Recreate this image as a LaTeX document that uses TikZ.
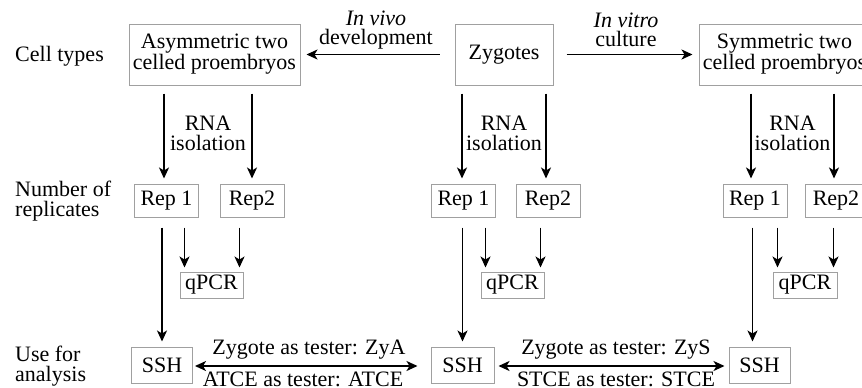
\documentclass[tikz,border=0pt]{standalone}
\usepackage{fontspec}
\setmainfont{Liberation Serif}
\usetikzlibrary{arrows.meta,calc}
\newcommand\figfont{\fontsize{22}{19.5}\selectfont}
\definecolor{boxgray}{RGB}{160,160,160}
\begin{document}
\begin{tikzpicture}[x=1pt,y=-1pt,
  figtip/.tip={Stealth[length=11pt,width=10pt,inset=3pt]},
  box/.style={draw=boxgray, line width=1pt, inner sep=0pt, align=center, font=\figfont},
  cellbox/.style={box, minimum width=171pt, minimum height=61pt},
  repbox/.style={box, minimum width=64pt, minimum height=33pt},
  qbox/.style={box, minimum width=63pt, minimum height=26pt},
  sshbox/.style={box, minimum width=61pt, minimum height=36pt},
  lbl/.style={inner sep=0pt, align=center, font=\figfont},
  side/.style={inner sep=0pt, align=left, anchor=west, font=\figfont},
  arr/.style={-figtip, line width=1.6pt},
  darr/.style={figtip-figtip, line width=1.6pt},
  rna/.style={arr, shorten <=8pt, shorten >=5pt},
  toq/.style={arr, shorten <=10pt, shorten >=4pt},
  tossh/.style={arr, shorten <=10pt, shorten >=5pt}]
\useasboundingbox (0,0) rectangle (862,388);
\clip (0,0) rectangle (862,388);

% row labels
\node[side] (lcell) at (15,56) {Cell types};
\node[side] (lrep) at (15,201) {Number of\\replicates};
\node[side] (luse) at (15,366) {Use for\\analysis};

% cell types
\node[cellbox] (asym) at (214.5,54.5) {Asymmetric two\\celled proembryos};
\node[box, minimum width=98pt, minimum height=61pt] (zyg) at (504,54.5) {Zygotes};
\node[cellbox] (sym) at (784.5,54.5) {Symmetric two\\celled proembryos};

\draw[arr, shorten <=15pt, shorten >=6pt] (zyg.west) -- (asym.east);
\node[lbl] (vivo) at (376,30) {\textit{In vivo}\\development};
\draw[arr, shorten <=13pt, shorten >=6pt] (zyg.east) -- (sym.west);
\node[lbl] (vitro) at (626,30) {\textit{In vitro}\\culture};

% replicates
\node[repbox] (ar1) at (166.5,200.5) {Rep 1};
\node[repbox] (ar2) at (252,200.5) {Rep2};
\node[repbox] (zr1) at (463.5,200.5) {Rep 1};
\node[repbox] (zr2) at (548,200.5) {Rep2};
\node[repbox] (sr1) at (755,200.5) {Rep 1};
\node[repbox, minimum width=62pt] (sr2) at (836,200.5) {Rep2};

% RNA isolation
\draw[rna] ([xshift=-2.5pt]asym.south -| ar1.north) -- ([xshift=-2.5pt]ar1.north);
\draw[rna] (asym.south -| ar2.north) -- (ar2.north);
\node[lbl] (arna) at (208,133.5) {RNA\\isolation};
\draw[rna] ([xshift=-1.5pt]zyg.south -| zr1.north) -- ([xshift=-1.5pt]zr1.north);
\draw[rna] ([xshift=-2pt]zyg.south -| zr2.north) -- ([xshift=-2pt]zr2.north);
\node[lbl] (zrna) at (504,133.5) {RNA\\isolation};
\draw[rna] ([xshift=-4pt]sym.south -| sr1.north) -- ([xshift=-4pt]sr1.north);
\draw[rna] ([xshift=-2pt]sym.south -| sr2.north) -- ([xshift=-2pt]sr2.north);
\node[lbl] (srna) at (792.5,133.5) {RNA\\isolation};

% qPCR
\node[qbox] (aq) at (211.5,285) {qPCR};
\node[qbox] (zq) at (512.5,285) {qPCR};
\node[qbox, minimum width=64pt] (sq) at (805,285) {qPCR};
\foreach \r/\s/\q in {ar1/ar2/aq, zr1/zr2/zq, sr1/sr2/sq}{
  \draw[toq] ([xshift=5pt]\q.north west |- \r.south) -- ([xshift=5pt]\q.north west);
  \draw[toq] ([xshift=-4pt]\q.north east |- \s.south) -- ([xshift=-4pt]\q.north east);
}

% SSH
\node[sshbox] (as) at (162,365) {SSH};
\node[sshbox, minimum width=63pt] (zs) at (462.5,365) {SSH};
\node[sshbox] (ss) at (759.5,365) {SSH};
\draw[tossh] (as.north |- ar1.south) -- (as.north);
\draw[tossh] (zs.north |- zr1.south) -- (zs.north);
\draw[tossh] ([xshift=-7pt]ss.north |- sr1.south) -- ([xshift=-7pt]ss.north);

% subtractive hybridisation pairs
\draw[darr, shorten <=2pt, shorten >=13pt] ([yshift=-1pt]as.east) -- ([yshift=-1pt]zs.west);
\node[lbl] (zya) at (309,350) {Zygote as tester: ZyA};
\node[lbl] (atce) at (303,379.5) {ATCE as tester: ATCE};
\draw[darr, shorten <=4pt, shorten >=4pt] ([yshift=-1pt]zs.east) -- ([yshift=-1pt]ss.west);
\node[lbl] (zys) at (616,350) {Zygote as tester: ZyS};
\node[lbl] (stce) at (616,379.5) {STCE as tester: STCE};
\end{tikzpicture}
\end{document}
